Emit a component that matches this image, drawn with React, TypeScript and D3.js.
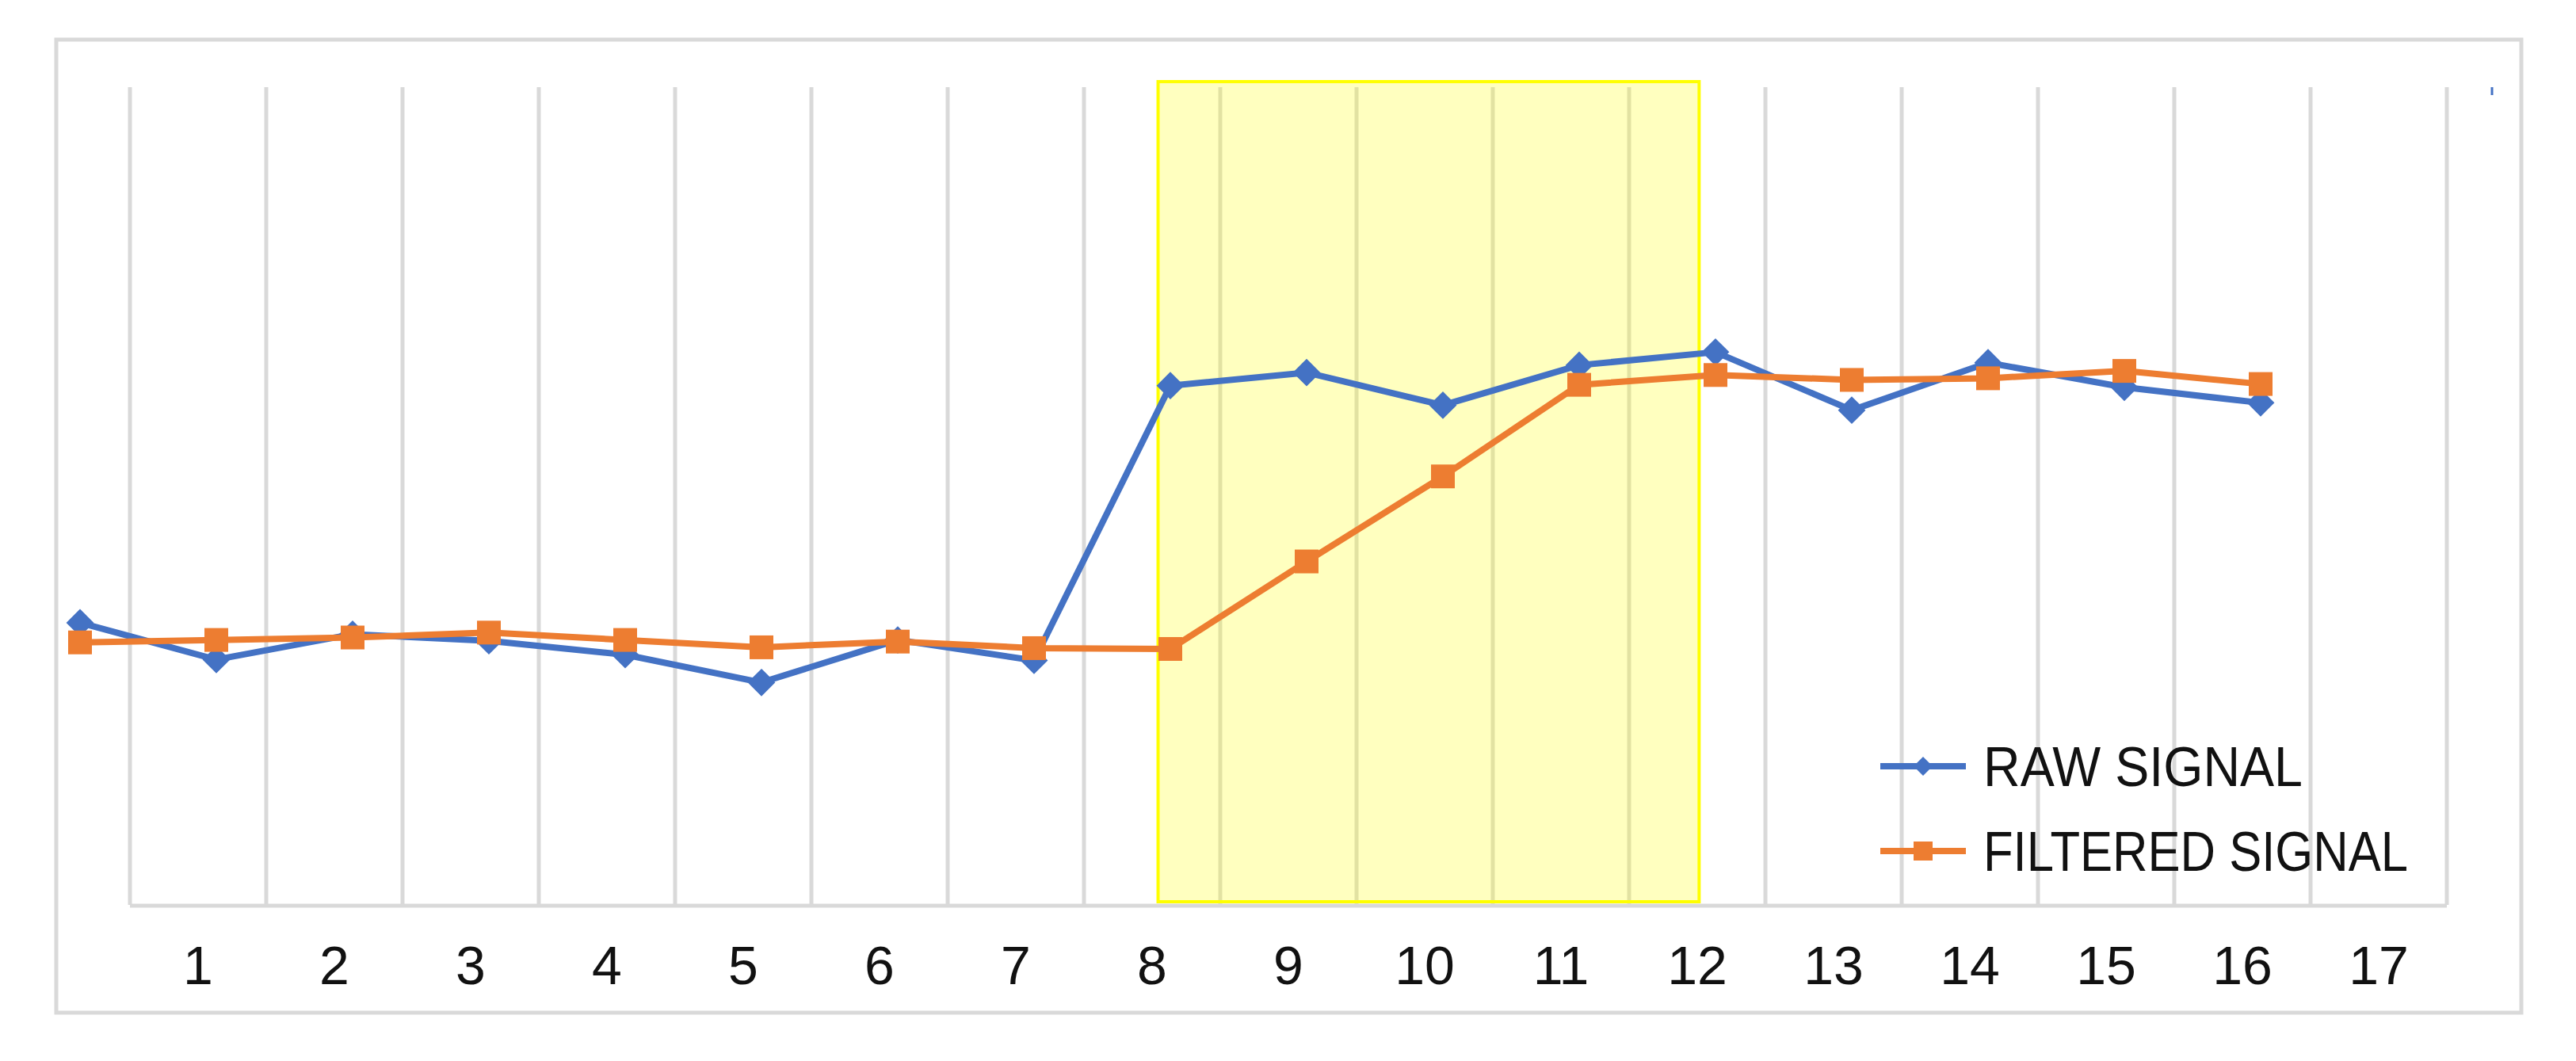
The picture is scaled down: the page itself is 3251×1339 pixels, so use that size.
import React from "react";
import * as d3 from "d3";

// ---- data ----
const CATEGORIES = ["1", "2", "3", "4", "5", "6", "7", "8", "9", "10", "11", "12", "13", "14", "15", "16", "17"];
const SAMPLE_INDEX = [1, 2, 3, 4, 5, 6, 7, 8, 9, 10, 11, 12, 13, 14, 15, 16, 17];
const RAW_SIGNAL = [34.5, 30.0, 33.1, 32.3, 30.6, 27.2, 32.4, 29.9, 63.5, 65.1, 61.1, 66.0, 67.6, 60.5, 66.3, 63.3, 61.4];
const FILTERED_SIGNAL = [32.1, 32.4, 32.7, 33.3, 32.4, 31.5, 32.2, 31.4, 31.3, 42.0, 52.4, 63.6, 64.8, 64.2, 64.4, 65.3, 63.7];
const SERIES_NAMES = ["RAW SIGNAL", "FILTERED SIGNAL"];
const HIGHLIGHT_RANGE = [8.91, 12.88];
const Y_DOMAIN = [0, 100];

const W = 3251;
const H = 1339;
const BLUE = "#4472C4";
const ORANGE = "#ED7D31";
const GRID = "#d9d9d9";
const FONT = "'Liberation Sans', Arial, sans-serif";

export default function App() {
  const xBand = d3.scaleBand<string>().domain(CATEGORIES).range([164, 3088]).padding(0);
  const xData = d3.scaleLinear().domain([1, 17]).range([101, 2853]);
  const y = d3.scaleLinear().domain(Y_DOMAIN).range([1142, 110]);

  const boundaries = [...CATEGORIES.map((c) => xBand(c) as number), xBand.range()[1]];

  const line = d3
    .line<number>()
    .x((_, i) => xData(SAMPLE_INDEX[i]))
    .y((d) => y(d));

  const rawPts = RAW_SIGNAL.map((v, i) => [xData(SAMPLE_INDEX[i]), y(v)]);
  const filtPts = FILTERED_SIGNAL.map((v, i) => [xData(SAMPLE_INDEX[i]), y(v)]);

  const dia = (cx: number, cy: number, r: number) =>
    `M${cx},${cy - r}L${cx + r},${cy}L${cx},${cy + r}L${cx - r},${cy}Z`;

  const hx0 = xData(HIGHLIGHT_RANGE[0]);
  const hx1 = xData(HIGHLIGHT_RANGE[1]);

  const legendY = [967, 1074];
  const legendTextLen = [403, 536];

  return (
    <svg
      width={W}
      height={H}
      viewBox={`0 0 ${W} ${H}`}
      style={{ position: "absolute", left: 0, top: 0, background: "#fff" }}
    >
      <rect x={0} y={0} width={W} height={H} fill="#fff" />
      {/* outer frame */}
      <rect x={71} y={50} width={3182 - 71} height={1278 - 50} fill="none" stroke={GRID} strokeWidth={5} />
      {/* vertical gridlines */}
      {boundaries.map((bx, i) => (
        <line key={"g" + i} x1={bx} x2={bx} y1={y(Y_DOMAIN[1])} y2={y(Y_DOMAIN[0])} stroke={GRID} strokeWidth={5} />
      ))}
      {/* highlight region */}
      <rect
        x={hx0}
        y={103}
        width={hx1 - hx0}
        height={1138 - 103}
        fill="rgba(255,255,0,0.25)"
        stroke="#FFFF00"
        strokeWidth={4}
      />
      {/* category axis line */}
      <line x1={boundaries[0]} x2={boundaries[boundaries.length - 1]} y1={1143} y2={1143} stroke={GRID} strokeWidth={5} />
      {/* tick labels */}
      {CATEGORIES.map((c) => (
        <text
          key={"t" + c}
          x={(xBand(c) as number) + xBand.bandwidth() / 2}
          y={1242}
          textAnchor="middle"
          fontFamily={FONT}
          fontSize={68}
          fill="#111"
        >
          {c}
        </text>
      ))}
      {/* raw signal */}
      <path d={line(RAW_SIGNAL) || ""} fill="none" stroke={BLUE} strokeWidth={8} strokeLinejoin="round" />
      {rawPts.map(([px, py], i) => (
        <path key={"r" + i} d={dia(px, py, 16)} fill={BLUE} stroke={BLUE} strokeWidth={2} />
      ))}
      {/* filtered signal */}
      <path d={line(FILTERED_SIGNAL) || ""} fill="none" stroke={ORANGE} strokeWidth={8} strokeLinejoin="round" />
      {filtPts.map(([px, py], i) => (
        <rect key={"f" + i} x={px - 15} y={py - 15} width={30} height={30} fill={ORANGE} />
      ))}
      {/* legend */}
      {SERIES_NAMES.map((name, i) => (
        <g key={"l" + i}>
          <line x1={2373} x2={2481} y1={legendY[i]} y2={legendY[i]} stroke={i === 0 ? BLUE : ORANGE} strokeWidth={8} />
          {i === 0 ? (
            <path d={dia(2427, legendY[i], 12)} fill={BLUE} />
          ) : (
            <rect x={2427 - 12} y={legendY[i] - 12} width={24} height={24} fill={ORANGE} />
          )}
          <text
            x={2503}
            y={legendY[i] + 25}
            fontFamily={FONT}
            fontSize={70}
            fill="#111"
            textLength={legendTextLen[i]}
            lengthAdjust="spacingAndGlyphs"
          >
            {name}
          </text>
        </g>
      ))}
      {/* small stray mark at top right */}
      <line x1={3145} x2={3145} y1={110} y2={120} stroke={BLUE} strokeWidth={3} />
    </svg>
  );
}
